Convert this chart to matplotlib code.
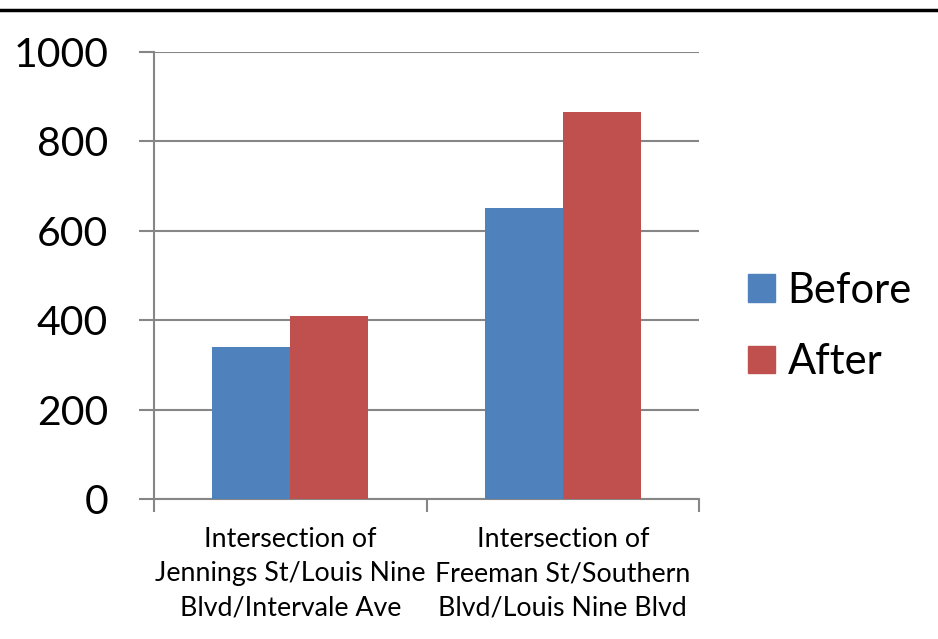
import matplotlib
matplotlib.use('Agg')
import matplotlib.pyplot as plt
import numpy as np
from matplotlib.lines import Line2D
from matplotlib.patches import Patch

plt.rcParams['font.family'] = ['Lato', 'DejaVu Sans']

categories = ['Intersection of\nJennings St/Louis Nine\nBlvd/Intervale Ave',
              'Intersection of\nFreeman St/Southern\nBlvd/Louis Nine Blvd']
before = [340, 650]
after = [410, 865]
series_names = ['Before', 'After']
colors = ['#4F81BD', '#C0504D']
grid_color = '#868686'

fig = plt.figure(figsize=(9.38, 6.39), dpi=100)
ax = fig.add_axes([0.1642, 0.2191, 0.581, 0.6995])

x = np.arange(len(categories))
w = 0.286
ax.bar(x - w / 2, before, w, color=colors[0], zorder=3)
ax.bar(x + w / 2, after, w, color=colors[1], zorder=3)

ax.set_xlim(-0.5, len(categories) - 0.5)
ax.set_ylim(0, 1000)
ax.set_yticks(range(0, 1001, 200))
ax.yaxis.grid(True, color=grid_color, linewidth=1.5, zorder=0)

# category boundaries as tick marks
ax.set_xticks(np.arange(-0.5, len(categories), 1.0))
ax.set_xticklabels([])
ax.set_xticks(x, minor=True)
ax.set_xticklabels(categories, minor=True, fontsize=19.3, linespacing=1.47)
ax.tick_params(axis='x', which='minor', length=0, pad=20)
ax.tick_params(axis='x', which='major', length=9, width=1.5, color=grid_color)
ax.tick_params(axis='y', length=11, width=1.5, color=grid_color, pad=22, labelsize=29.5)

for s in ['top', 'right']:
    ax.spines[s].set_visible(False)
for s in ['left', 'bottom']:
    ax.spines[s].set_color(grid_color)
    ax.spines[s].set_linewidth(1.5)

handles = [Patch(color=c, label=n) for c, n in zip(colors, series_names)]
fig.legend(handles=handles, loc='center left', bbox_to_anchor=(0.797, 0.489),
           frameon=False, fontsize=30, handlelength=0.65, handleheight=0.65,
           handletextpad=0.31, labelspacing=0.8, borderaxespad=0, borderpad=0)

fig.add_artist(Line2D([0, 1], [1 - 10 / 639, 1 - 10 / 639], color='black', linewidth=2.5))

fig.savefig('out.png', dpi=100, facecolor='white')
